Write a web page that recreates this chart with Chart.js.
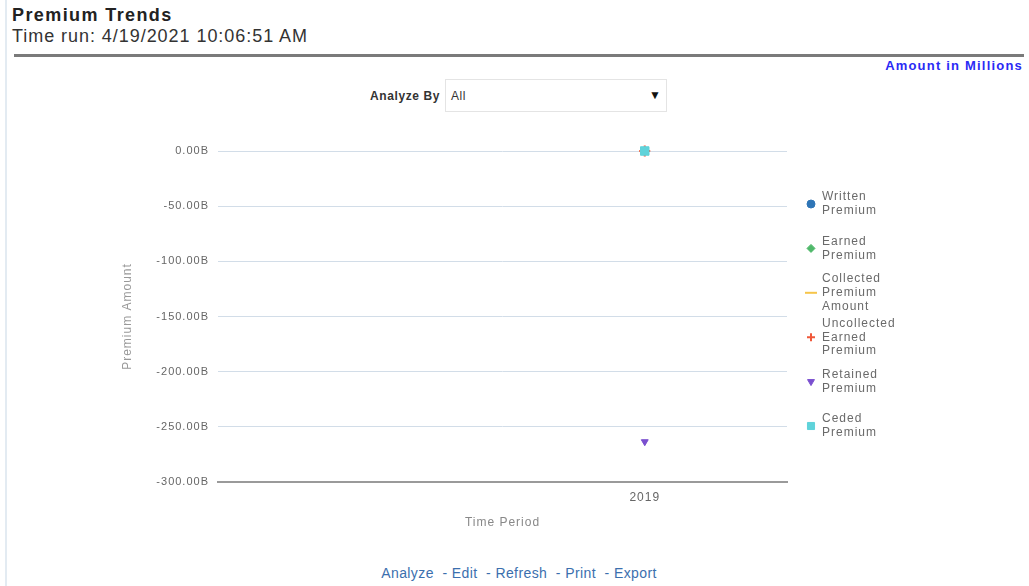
<!DOCTYPE html>
<html>
<head>
<meta charset="utf-8">
<title>Premium Trends</title>
<script src="https://cdn.jsdelivr.net/npm/chart.js@4.4.1/dist/chart.umd.min.js"></script>
<style>
  html, body { margin: 0; padding: 0; background: #fff; }
  body { width: 1029px; height: 586px; position: relative; overflow: hidden;
         font-family: "Liberation Sans", Arial, sans-serif; }
  .edge { position: absolute; left: 5px; top: 0; width: 2px; height: 586px; background: #e3ebf2; }
  .title { position: absolute; left: 12px; top: 5px; font-size: 18px; font-weight: bold; color: #222; letter-spacing: 1.4px; }
  .runtime { position: absolute; left: 12px; top: 26px; font-size: 18px; color: #333; letter-spacing: 0.95px; }
  .rule { position: absolute; left: 14px; top: 54px; width: 1010px; height: 3px; background: #7a7a7a; }
  .units { position: absolute; right: 6px; top: 58px; font-size: 13px; font-weight: bold; color: #2a2af5; letter-spacing: 1.2px; }
  .analyze { position: absolute; left: 370px; top: 89px; font-size: 12px; font-weight: bold; color: #333; letter-spacing: 0.6px; }
  .select { position: absolute; left: 445px; top: 79px; width: 222px; height: 33px; border: 1px solid #e4e4e4;
            box-sizing: border-box; font-size: 12px; color: #333; }
  .select span.v { position: absolute; left: 5px; top: 9px; letter-spacing: 0.6px; }
  .select span.a { position: absolute; right: 5px; top: 8px; font-size: 12px; color: #111; }
  .links { position: absolute; left: 0; width: 1038px; top: 565px; text-align: center; font-size: 14px; color: #3b6fae; letter-spacing: 0.4px; }
  canvas#chart { position: absolute; left: 100px; top: 120px; }
</style>
</head>
<body>
<div class="edge"></div>
<div class="title">Premium Trends</div>
<div class="runtime">Time run: 4/19/2021 10:06:51 AM</div>
<div class="rule"></div>
<div class="units">Amount in Millions</div>
<div class="analyze">Analyze By</div>
<div class="select"><span class="v">All</span><span class="a">&#9660;</span></div>
<canvas id="chart" width="800" height="430"></canvas>
<div class="links">Analyze&nbsp; - Edit&nbsp; - Refresh&nbsp; - Print&nbsp; - Export</div>

<script>
// Time periods on the x axis (the first slot has no reported data)
const periods = ['', '2019'];

// Premium values per period, in billions
const writtenPremium     = [null, 0];
const earnedPremium      = [null, 0];
const collectedPremium   = [null, 0];
const uncollectedEarned  = [null, 0];
const retainedPremium    = [null, -263.5];
const cededPremium       = [null, 0];

// Y axis range and step
const yMin = -300;
const yMax = 0;
const yStep = 50;

// Legend labels (wrapped as shown beside the plot)
const legendLines = [
  ['Written', 'Premium'],
  ['Earned', 'Premium'],
  ['Collected', 'Premium', 'Amount'],
  ['Uncollected', 'Earned', 'Premium'],
  ['Retained', 'Premium'],
  ['Ceded', 'Premium']
];

const seriesStyles = [
  { color: '#2e75b6', pointStyle: 'circle',   rotation: 0,   radius: 4 },
  { color: '#4fb86a', pointStyle: 'rectRot',  rotation: 0,   radius: 4 },
  { color: '#f6c54a', pointStyle: 'line',     rotation: 0,   radius: 5 },
  { color: '#f0583a', pointStyle: 'cross',    rotation: 0,   radius: 5.5 },
  { color: '#7a4fcf', pointStyle: 'triangle', rotation: 180, radius: 4 },
  { color: '#5fd3da', pointStyle: 'rect',     rotation: 0,   radius: 6 }
];

const seriesData = [writtenPremium, earnedPremium, collectedPremium,
                    uncollectedEarned, retainedPremium, cededPremium];
// Ceded is painted last so it sits on top of the stacked zero points
const drawOrder = [5, 4, 3, 2, 1, 0];

const FONT = '"Liberation Sans", Arial, sans-serif';
const SPACING = '1px';

const datasets = seriesData.map((values, i) => ({
  label: legendLines[i].join(' '),
  data: values,
  showLine: false,
  clip: false,
  borderColor: seriesStyles[i].color,
  backgroundColor: seriesStyles[i].color,
  pointStyle: seriesStyles[i].pointStyle,
  pointRotation: seriesStyles[i].rotation,
  pointRadius: seriesStyles[i].radius,
  pointBorderWidth: seriesStyles[i].pointStyle === 'cross' || seriesStyles[i].pointStyle === 'line' ? 2 : 1,
  order: drawOrder[i]
}));

// Slightly wider lettering for all canvas text
const letterSpacing = {
  id: 'letterSpacing',
  beforeLayout(chart) { chart.ctx.letterSpacing = SPACING; },
  beforeDraw(chart) { chart.ctx.letterSpacing = SPACING; }
};

// Legend drawn beside the plot with multi-line labels
const sideLegend = {
  id: 'sideLegend',
  afterDraw(chart) {
    const ctx = chart.ctx;
    const area = chart.chartArea;
    const markerX = area.right + 24;
    const textX = area.right + 35;
    const firstY = area.top + 53;
    const slot = 44.4;
    const lh = 13.8;
    ctx.save();
    ctx.letterSpacing = SPACING;
    ctx.font = '12px ' + FONT;
    ctx.textBaseline = 'middle';
    ctx.textAlign = 'left';
    legendLines.forEach((lines, i) => {
      const cy = firstY + slot * i;
      const st = seriesStyles[i];
      ctx.strokeStyle = st.color;
      ctx.fillStyle = st.color;
      ctx.lineWidth = (st.pointStyle === 'cross' || st.pointStyle === 'line') ? 2 : 1;
      Chart.helpers.drawPoint(ctx, {
        pointStyle: st.pointStyle,
        rotation: st.rotation,
        radius: st.pointStyle === 'line' ? 6 : (st.pointStyle === 'rect' ? 5 : 4),
        borderWidth: ctx.lineWidth
      }, markerX, cy);
      ctx.fillStyle = '#6a6a6a';
      const startY = cy - (lines.length - 1) * lh / 2;
      lines.forEach((t, k) => ctx.fillText(t, textX, startY + k * lh));
    });
    ctx.restore();
  }
};

new Chart(document.getElementById('chart'), {
  type: 'line',
  data: { labels: periods, datasets },
  options: {
    responsive: false,
    animation: false,
    layout: { padding: { left: 0, top: 31, right: 113, bottom: 0 } },
    plugins: { legend: { display: false }, tooltip: { enabled: false } },
    scales: {
      x: {
        offset: true,
        grid: { display: false, drawTicks: false },
        border: { display: true, color: '#9a9a9a', width: 2 },
        ticks: { color: '#666', font: { size: 12, family: FONT }, padding: 8 },
        title: { display: true, text: 'Time Period', color: '#888',
                 font: { size: 12, family: FONT }, padding: { top: 4, bottom: 20 } },
        afterFit(scale) { scale.height = 68; }
      },
      y: {
        min: yMin, max: yMax,
        grid: {
          drawTicks: false,
          color: ctx => ctx.tick && ctx.tick.value === yMin ? 'rgba(0,0,0,0)' : '#d2dde8',
          lineWidth: 1
        },
        border: { display: false },
        ticks: {
          stepSize: yStep,
          color: '#666',
          padding: 9,
          font: { size: 11, family: FONT },
          callback: v => v.toFixed(2) + 'B'
        },
        title: { display: true, text: 'Premium Amount', color: '#999',
                 font: { size: 12, family: FONT }, padding: { top: 20, bottom: 0 } },
        afterFit(scale) { scale.width = 118; }
      }
    }
  },
  plugins: [letterSpacing, sideLegend]
});
</script>
</body>
</html>
